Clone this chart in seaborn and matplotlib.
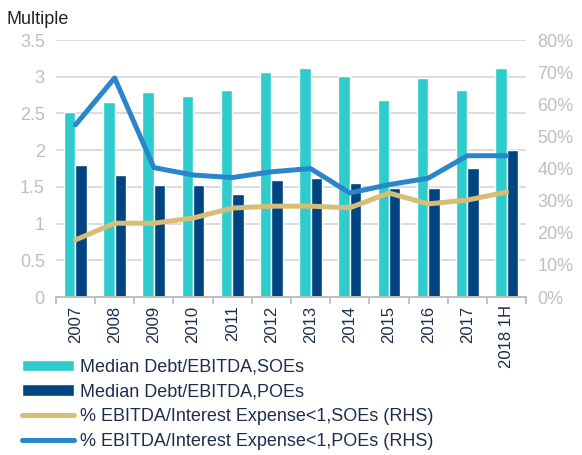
import pandas as pd
import seaborn as sns
import matplotlib.pyplot as plt
from matplotlib.ticker import FuncFormatter

# data
years = ["2007", "2008", "2009", "2010", "2011", "2012", "2013", "2014", "2015", "2016", "2017", "2018 1H"]
debt_soe = [2.52, 2.66, 2.79, 2.74, 2.82, 3.07, 3.12, 3.01, 2.68, 2.98, 2.82, 3.12]
debt_poe = [1.80, 1.66, 1.52, 1.52, 1.41, 1.59, 1.62, 1.55, 1.48, 1.49, 1.76, 2.00]
pct_soe = [17.8, 23.0, 23.0, 24.6, 27.7, 28.3, 28.3, 27.8, 32.4, 29.0, 30.2, 32.7]
pct_poe = [53.6, 68.2, 40.3, 38.0, 37.2, 39.0, 40.0, 32.4, 35.0, 37.0, 44.0, 44.0]

lbl_bar_soe = "Median Debt/EBITDA,SOEs"
lbl_bar_poe = "Median Debt/EBITDA,POEs"
lbl_line_soe = "% EBITDA/Interest Expense<1,SOEs (RHS)"
lbl_line_poe = "% EBITDA/Interest Expense<1,POEs (RHS)"

bars = pd.DataFrame({
    "year": years * 2,
    "value": debt_soe + debt_poe,
    "series": [lbl_bar_soe] * len(years) + [lbl_bar_poe] * len(years),
})
lines = pd.DataFrame({"year": years, "soe": pct_soe, "poe": pct_poe})

sns.set_theme(style="white")
plt.rcParams["font.family"] = ["Liberation Sans", "DejaVu Sans"]

grey = "#bfbfbf"
navy_text = "#1f2d4d"

fig = plt.figure(figsize=(5.82, 4.55), dpi=100)
ax = fig.add_axes([0.096, 0.347, 0.808, 0.565])

sns.barplot(data=bars, x="year", y="value", hue="series", order=years,
            palette=["#2ecccd", "#004481"], width=0.58, gap=0, saturation=1,
            ax=ax)
ax.set_ylim(0, 3.5)
ax.set_yticks([0, 0.5, 1, 1.5, 2, 2.5, 3, 3.5])
ax.set_yticklabels(["0", "0.5", "1", "1.5", "2", "2.5", "3", "3.5"])
ax.yaxis.grid(True, color="#d9d9d9", linewidth=1.3)
ax.set_axisbelow(True)
ax.set_xlabel("")
ax.set_ylabel("")
ax.set_xlim(-0.5, len(years) - 0.5)

ax2 = ax.twinx()
x_pos = list(range(len(years)))
sns.lineplot(x=x_pos, y=lines["soe"], color="#d8be75", linewidth=3.6,
             label=lbl_line_soe, ax=ax2, solid_capstyle="round")
sns.lineplot(x=x_pos, y=lines["poe"], color="#2a86ca", linewidth=3.6,
             label=lbl_line_poe, ax=ax2, solid_capstyle="round")
ax2.set_ylim(0, 80)
ax2.set_yticks(range(0, 81, 10))
ax2.yaxis.set_major_formatter(FuncFormatter(lambda v, p: f"{v:.0f}%"))
ax2.set_ylabel("")
ax2.set_xlim(-0.5, len(years) - 0.5)

for a in (ax, ax2):
    for s in ["top", "left", "right"]:
        a.spines[s].set_visible(False)
    a.spines["bottom"].set_color(grey)
    a.spines["bottom"].set_linewidth(1.3)
    a.tick_params(axis="y", colors=grey, labelsize=13, length=0, pad=8)

ax.set_xticks(range(len(years)))
ax.set_xticklabels(years, rotation=90, color=navy_text, fontsize=12)
ax.tick_params(axis="x", length=0, pad=6)
# category separators on the x axis
ax.set_xticks([i - 0.5 for i in range(len(years) + 1)], minor=True)
ax.tick_params(axis="x", which="minor", length=5, color=grey, width=1.3, bottom=True)
ax2.tick_params(axis="x", length=0)

fig.text(0.012, 0.948, "Multiple", fontsize=13, color="#222222")

h1, l1 = ax.get_legend_handles_labels()
h2, l2 = ax2.get_legend_handles_labels()
if ax.get_legend():
    ax.get_legend().remove()
if ax2.get_legend():
    ax2.get_legend().remove()
leg = fig.legend(h1 + h2, l1 + l2, loc="lower left", bbox_to_anchor=(0.025, -0.004),
                 frameon=False, fontsize=13, handlelength=2.9, handleheight=0.6,
                 labelspacing=0.42, handletextpad=0.3, borderaxespad=0.0)
for t in leg.get_texts():
    t.set_color(navy_text)

fig.savefig("out.png", dpi=100)
